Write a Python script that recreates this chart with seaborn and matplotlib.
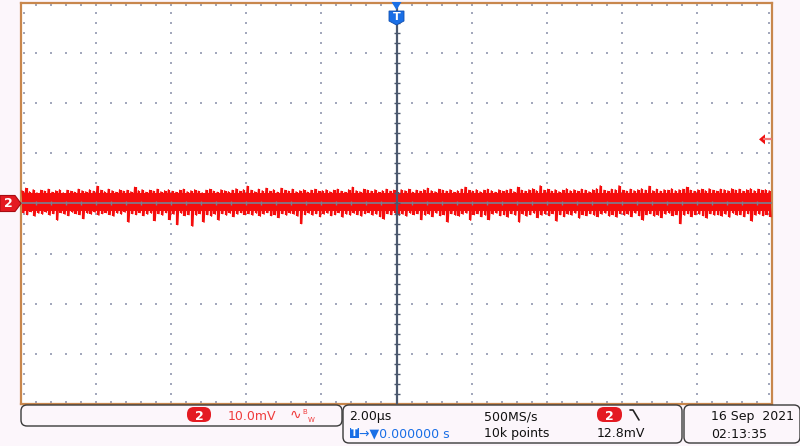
import numpy as np
import pandas as pd
import matplotlib
matplotlib.use("Agg")
import matplotlib.pyplot as plt
import seaborn as sns
from matplotlib.patches import FancyBboxPatch, Polygon, Rectangle
from matplotlib.lines import Line2D
from matplotlib.transforms import blended_transform_factory as btf

# ---------------- data ----------------
time_div_us = 2.0
volt_div_mv = 10.0
n_hdiv = 10
n_vdiv = 8
trigger_level_mv = 12.8
trigger_time_us = 0.0
trace_offset_mv = 0.25
core_hi_mv = 1.8
core_lo_mv = -1.7

trace_hi_mv = [
    2.3, 2.8, 2.1, 2.5, 1.9, 2.4, 2.2, 2.6, 2.0, 2.3, 2.5, 1.9, 2.4, 2.2, 2.0, 2.6, 2.3, 2.1, 2.5, 2.2,
    3.2, 2.4, 2.1, 2.6, 2.3, 2.0, 2.5, 2.2, 2.4, 2.1, 3.0, 2.3, 2.5, 2.0, 2.4, 2.2, 2.6, 2.1, 2.3, 2.5,
    2.2, 2.0, 2.4, 2.6, 2.1, 2.3, 2.5, 2.2, 1.9, 2.4, 2.6, 2.2, 2.0, 2.5, 2.3, 2.1, 2.4, 2.7, 2.2, 2.5,
    3.2, 2.4, 2.1, 2.6, 2.3, 2.8, 2.2, 2.5, 2.0, 2.8, 2.4, 2.2, 2.6, 2.1, 2.3, 2.5, 2.0, 2.4, 2.6, 2.2,
    2.3, 2.5, 2.1, 2.4, 2.6, 2.2, 2.0, 2.5, 3.0, 2.3, 2.1, 2.6, 2.4, 2.2, 2.5, 2.0, 2.3, 2.6, 2.2, 2.4,
    2.1, 2.5, 2.3, 2.6, 2.0, 2.4, 2.2, 2.5, 2.8, 2.3, 2.1, 2.6, 2.4, 2.2, 2.5, 2.0, 2.3, 2.6, 3.0, 2.4,
    2.2, 2.5, 2.1, 2.4, 2.6, 2.3, 2.0, 2.5, 2.2, 2.4, 2.6, 2.1, 3.0, 2.4, 2.2, 2.5, 2.7, 2.3, 3.3, 2.4,
    2.6, 2.2, 2.5, 2.1, 2.4, 2.7, 2.3, 2.5, 2.2, 2.6, 2.4, 2.1, 2.5, 2.7, 3.3, 2.4, 2.2, 2.6, 2.5, 3.3,
    2.4, 2.2, 2.6, 2.3, 2.5, 2.7, 2.4, 3.2, 2.3, 2.6, 2.2, 2.5, 2.4, 2.7, 2.3, 2.5, 2.6, 3.0, 2.4, 2.2,
    2.5, 2.6, 2.3, 2.7, 2.4, 2.2, 2.6, 2.5, 2.3, 2.7, 2.4, 2.6, 2.2, 2.5, 2.7, 2.3, 2.6, 2.4, 2.5, 2.3,
]
trace_lo_mv = [
    -2.1, -2.5, -1.9, -2.8, -2.2, -2.4, -2.0, -2.6, -2.3, -3.6, -2.1, -2.4, -2.7, -2.0, -2.3, -2.5, -3.3, -2.2, -2.4, -2.0,
    -2.6, -2.3, -2.1, -2.5, -2.8, -2.2, -2.4, -2.0, -4.0, -2.3, -2.5, -2.1, -2.7, -2.4, -2.2, -3.7, -2.3, -2.6, -2.1, -3.5,
    -2.4, -4.5, -2.2, -2.7, -2.5, -4.8, -2.6, -2.3, -4.0, -2.5, -2.8, -2.4, -3.6, -2.3, -2.6, -2.2, -2.9, -2.4, -2.1, -2.5,
    -2.3, -2.6, -2.2, -2.8, -2.4, -2.1, -2.7, -2.5, -3.1, -2.3, -2.6, -2.2, -2.4, -2.8, -4.3, -2.5, -2.2, -2.6, -2.3, -2.9,
    -2.4, -2.2, -2.7, -2.5, -2.1, -3.0, -2.4, -2.6, -2.2, -2.5, -2.8, -2.3, -2.1, -2.6, -2.4, -2.9, -3.4, -2.3, -2.5, -2.2,
    -2.6, -2.4, -2.8, -2.2, -2.5, -2.3, -3.5, -2.6, -2.4, -2.9, -2.2, -2.7, -2.5, -4.0, -2.3, -2.6, -2.8, -2.4, -2.2, -3.6,
    -2.5, -2.3, -2.9, -2.6, -3.5, -2.4, -2.2, -2.7, -2.5, -3.0, -2.3, -2.6, -4.0, -2.4, -2.8, -2.5, -2.2, -3.1, -2.6, -2.4,
    -2.7, -2.3, -3.8, -2.5, -2.9, -2.4, -2.6, -2.2, -3.2, -2.5, -2.7, -2.3, -2.6, -2.9, -2.4, -2.2, -2.8, -2.5, -3.0, -2.3,
    -2.6, -2.4, -2.9, -2.2, -2.7, -3.6, -2.5, -2.3, -2.8, -2.6, -3.1, -2.4, -2.2, -2.7, -2.5, -4.3, -2.6, -2.3, -2.9, -2.5,
    -2.4, -2.7, -3.2, -2.3, -2.6, -2.5, -2.8, -2.4, -3.0, -2.2, -2.6, -2.5, -2.9, -2.3, -3.8, -2.6, -2.4, -2.7, -2.5, -2.9,
]

ch_label = "2"
scale_text = "10.0mV"
timebase_text = "2.00µs"
rate_text = "500MS/s"
delay_text = "→▼0.000000 s"
points_text = "10k points"
level_text = "12.8mV"
date_text = "16 Sep  2021"
clock_text = "02:13:35"

# ---------------- style ----------------
sns.set_theme(style="white")
plt.rcParams["font.family"] = ["DejaVu Sans"]

BG = "#fcf6fb"
RED = "#f50d0d"
BADGE_RED = "#e41a22"
BLUE = "#1a6fe6"
BORDER = "#c8874d"
DOT = "#a3a8bc"
W, H = 800, 446

fig = plt.figure(figsize=(W / 100, H / 100), dpi=100, facecolor=BG)
ax = fig.add_axes([21 / W, (H - 404) / H, 751 / W, 401 / H])
ax.set_facecolor("white")

xmax = n_hdiv / 2 * time_div_us
ymax = n_vdiv / 2 * volt_div_mv
ax.set_xlim(-xmax, xmax)
ax.set_ylim(-ymax, ymax)
ax.set_xticks([])
ax.set_yticks([])
for s in ax.spines.values():
    s.set_color(BORDER)
    s.set_linewidth(1.6)
    s.set_visible(True)

# graticule dots
minor_x = np.arange(-xmax, xmax + 1e-9, time_div_us / 5)
minor_y = np.arange(-ymax, ymax + 1e-9, volt_div_mv / 5)
major_x = [v for v in np.arange(-xmax + time_div_us, xmax, time_div_us) if abs(v) > 1e-9]
major_y = [v for v in np.arange(-ymax + volt_div_mv, ymax, volt_div_mv) if abs(v) > 1e-9]
dx, dy = [], []
for xm in major_x:
    dx += [xm] * (len(minor_y) - 2)
    dy += list(minor_y[1:-1])
for ym in major_y:
    dx += list(minor_x[1:-1])
    dy += [ym] * (len(minor_x) - 2)
ex = 0.07
ey = 0.35
dx += list(minor_x[1:-1]) * 2
dy += [ymax - ey] * (len(minor_x) - 2) + [-ymax + ey] * (len(minor_x) - 2)
dx += [-xmax + ex] * (len(minor_y) - 2) + [xmax - ex] * (len(minor_y) - 2)
dy += list(minor_y[1:-1]) * 2
ax.scatter(dx, dy, s=2.2, marker="s", color=DOT, linewidths=0, zorder=1)

# trace: solid core, per-sample strokes, zigzag between samples
hi = np.asarray(trace_hi_mv) + trace_offset_mv
lo = np.asarray(trace_lo_mv) + trace_offset_mv
t = np.linspace(-xmax + 0.05, xmax - 0.05, len(hi))
half = (t[1] - t[0]) / 2
ax.axhspan(core_lo_mv + trace_offset_mv, core_hi_mv + trace_offset_mv,
           color=RED, lw=0, zorder=2)
ax.vlines(t, lo, hi, color=RED, lw=1.6, zorder=2)
df = pd.DataFrame({
    "t": np.column_stack([t - half * 0.5, t + half * 0.5]).ravel(),
    "v": np.column_stack([hi, lo]).ravel(),
})
sns.lineplot(data=df, x="t", y="v", sort=False, estimator=None, color=RED,
             lw=0.9, ax=ax, zorder=3)
ax.set_xlabel("")
ax.set_ylabel("")

# center crosshair
ax.axhline(0, color="#7a8090", lw=1.2, zorder=4)
ax.plot(minor_x[1:-1], np.zeros(len(minor_x) - 2), ls="none", marker="|",
        ms=3.5, mew=1.0, color="#7a8090", zorder=4)
ax.axvline(trigger_time_us, color="#4b586e", lw=1.6, zorder=5)
ax.plot(np.full(len(minor_y) - 2, trigger_time_us), minor_y[1:-1], ls="none",
        marker="_", ms=5, mew=1.0, color="#4b586e", zorder=5)

# channel marker (left)
tr_fy = btf(fig.transFigure, ax.transData)
mh = 1.6
ax.add_patch(Polygon([(0, mh), (15 / W, mh), (21 / W, 0), (15 / W, -mh), (0, -mh)],
                     closed=True, transform=tr_fy, facecolor=BADGE_RED,
                     edgecolor="#a80c12", lw=0.8, clip_on=False, zorder=6))
ax.text(8 / W, 0, ch_label, transform=tr_fy, color="white", fontsize=9,
        fontweight="bold", ha="center", va="center", zorder=7)

# trigger level arrow (right)
ax.add_patch(Polygon([(759 / W, trigger_level_mv), (765 / W, trigger_level_mv + 1.0),
                      (765 / W, trigger_level_mv - 1.0)], closed=True,
                     transform=tr_fy, facecolor="#f01010", edgecolor="none",
                     clip_on=False, zorder=6))
ax.add_line(Line2D([764 / W, 771 / W], [trigger_level_mv, trigger_level_mv],
                   transform=tr_fy, color="#f07a7a", lw=1.6, zorder=6, clip_on=False))

# trigger position marker (top)
tr_xf = btf(ax.transData, fig.transFigure)
px_us = 2 * xmax / 751.0
fy = lambda p: 1 - p / H
ax.add_patch(Polygon([(trigger_time_us - 5 * px_us, fy(2)), (trigger_time_us + 5 * px_us, fy(2)),
                      (trigger_time_us, fy(10))], closed=True, transform=tr_xf,
                     facecolor=BLUE, edgecolor="none", clip_on=False, zorder=8))
ax.add_patch(Polygon([(trigger_time_us - 7.5 * px_us, fy(11)), (trigger_time_us + 7.5 * px_us, fy(11)),
                      (trigger_time_us + 7.5 * px_us, fy(21)), (trigger_time_us, fy(25)),
                      (trigger_time_us - 7.5 * px_us, fy(21))], closed=True, transform=tr_xf,
                     facecolor=BLUE, edgecolor="#0f4fb0", lw=0.6, clip_on=False, zorder=8))
ax.text(trigger_time_us, fy(17), "T", transform=tr_xf, color="white", fontsize=8,
        fontweight="bold", ha="center", va="center", zorder=9)

# ---------------- status bar overlay ----------------
ov = fig.add_axes([0, 0, 1, 1])
ov.set_xlim(0, W)
ov.set_ylim(H, 0)
ov.axis("off")
ov.patch.set_alpha(0)


def box(x, y, w, h, r=6, fc=BG, ec="#3a3a3a", lw=1.0):
    ov.add_patch(FancyBboxPatch((x, y), w, h, boxstyle=f"round,pad=0,rounding_size={r}",
                                facecolor=fc, edgecolor=ec, lw=lw))


box(21, 405, 321, 21)
box(343, 405, 339, 38)
box(684, 405, 116, 38)

FS = 9
box(187, 407, 24, 15, r=7, fc=BADGE_RED, ec="none")
ov.text(199, 415, ch_label, color="white", fontsize=FS, fontweight="bold",
        ha="center", va="center_baseline")
ov.text(228, 420, scale_text, color="#ef3b3b", fontsize=FS, ha="left", va="baseline")
ov.text(290, 418.5, "∿", color="#ef3b3b", fontsize=10, ha="left", va="baseline")
ov.text(302, 413.5, "B", color="#ef3b3b", fontsize=5, ha="left", va="baseline")
ov.text(307.5, 422, "W", color="#ef3b3b", fontsize=5, ha="left", va="baseline")

ov.text(349, 420, timebase_text, color="#111111", fontsize=FS, ha="left", va="baseline")
ov.text(484, 420, rate_text, color="#111111", fontsize=FS, ha="left", va="baseline")
box(597, 407, 25, 15, r=7, fc=BADGE_RED, ec="none")
ov.text(609.5, 415, ch_label, color="white", fontsize=FS, fontweight="bold",
        ha="center", va="center_baseline")
ov.add_line(Line2D([630, 633, 639], [410, 410, 420], color="#222222", lw=1.2))
ov.add_patch(Rectangle((349.5, 427.5), 9, 10, facecolor=BLUE, edgecolor="none"))
ov.text(354, 432.5, "T", color="white", fontsize=7, fontweight="bold",
        ha="center", va="center_baseline")
ov.text(359, 437, delay_text, color=BLUE, fontsize=FS, ha="left", va="baseline")
ov.text(484, 437, points_text, color="#111111", fontsize=FS, ha="left", va="baseline")
ov.text(597, 437, level_text, color="#111111", fontsize=FS, ha="left", va="baseline")

ov.text(711, 420, date_text, color="#111111", fontsize=FS, ha="left", va="baseline")
ov.text(711, 437.5, clock_text, color="#111111", fontsize=FS, ha="left", va="baseline")

fig.savefig("out.png", dpi=100, facecolor=BG)
